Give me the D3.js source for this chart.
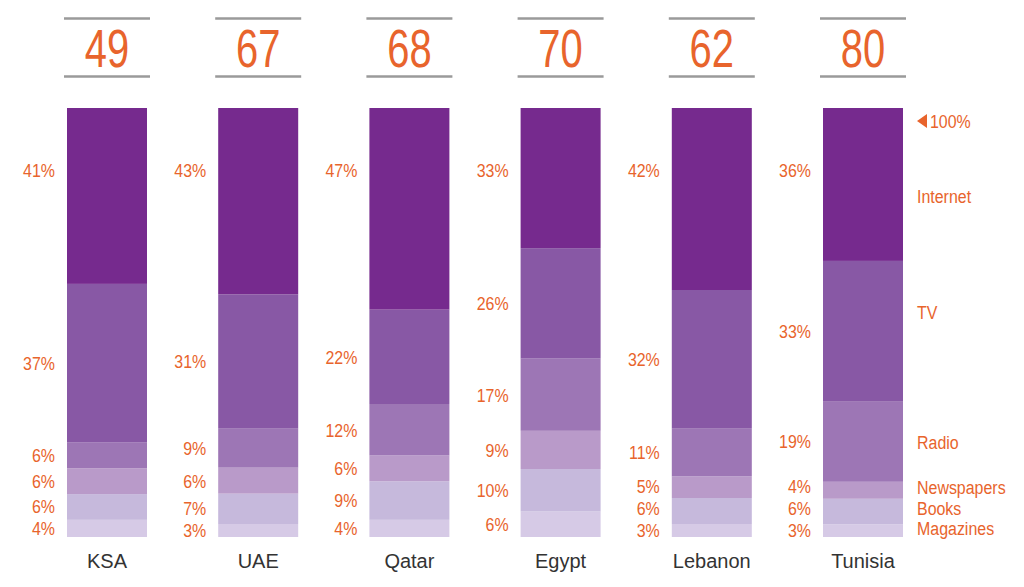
<!DOCTYPE html>
<html><head><meta charset="utf-8">
<script src="https://cdn.jsdelivr.net/npm/d3@7"></script>
<style>
html,body{margin:0;padding:0;background:#fff;}
svg{display:block;}
</style></head>
<body>
<svg id="chart" width="1024" height="587"></svg>
<script>
// ---- data ----
const countries = ["KSA", "UAE", "Qatar", "Egypt", "Lebanon", "Tunisia"];
const totals = [49, 67, 68, 70, 62, 80];
const media = ["Magazines", "Books", "Newspapers", "Radio", "TV", "Internet"]; // bottom to top
const magazines  = [4, 3, 4, 6, 3, 3];
const books      = [6, 7, 9, 10, 6, 6];
const newspapers = [6, 6, 6, 9, 5, 4];
const radio      = [6, 9, 12, 17, 11, 19];
const tv         = [37, 31, 22, 26, 32, 33];
const internet   = [41, 43, 47, 33, 42, 36];

const series = [magazines, books, newspapers, radio, tv, internet];
const colors = ["#d6cae6", "#c6b9dc", "#b99ac9", "#9d76b5", "#8858a5", "#762a8e"];
const orange = "#e8642c";

const svg = d3.select("#chart");
const font = "'Liberation Sans',Arial,sans-serif";

const xs = d3.scaleBand().domain(countries).range([67, 903])
  .paddingInner((151.2 - 80) / 151.2).paddingOuter(0);
const y = d3.scaleLinear().domain([0, 100]).range([537, 108]);

const stackData = countries.map((c, i) => {
  const o = { country: c };
  const sum = d3.sum(series, s => s[i]);
  media.forEach((m, k) => { o[m] = series[k][i] * 100 / sum; o["raw_" + m] = series[k][i]; });
  return o;
});
const stack = d3.stack().keys(media)(stackData);

// condensed text helper
function ctext(g, x, yy, str, size, sx, anchor, fill) {
  return g.append("text")
    .attr("transform", `translate(${x},${yy}) scale(${sx},1)`)
    .attr("text-anchor", anchor)
    .attr("dy", "0.36em")
    .attr("font-family", font)
    .attr("font-size", size)
    .attr("fill", fill)
    .text(str);
}

// segments
stack.forEach((layer, k) => {
  svg.append("g").selectAll("rect").data(layer).join("rect")
    .attr("x", d => xs(d.data.country))
    .attr("width", xs.bandwidth())
    .attr("y", d => y(d[1]))
    .attr("height", d => y(d[0]) - y(d[1]))
    .attr("fill", colors[k]);
});

// percentage labels (bottom-up, avoid overlaps)
const lblG = svg.append("g");
countries.forEach((c, i) => {
  let prev = Infinity;
  stack.forEach((layer, k) => {
    const d = layer[i];
    const key = media[k];
    let yy = key === "Internet" ? y(100) + 62 : (y(d[0]) + y(d[1])) / 2;
    if (key !== "Internet") { yy = Math.min(yy, prev - 22); prev = yy; }
    ctext(lblG, xs(c) - 12, yy, d.data["raw_" + key] + "%", 19, 0.84, "end", orange);
  });
});

// top totals with rules
const tg = svg.append("g");
countries.forEach((c, i) => {
  const x0 = xs(c) - 3, x1 = xs(c) + xs.bandwidth() + 3, cx = xs(c) + xs.bandwidth() / 2;
  tg.append("line").attr("x1", x0).attr("x2", x1).attr("y1", 18.5).attr("y2", 18.5)
    .attr("stroke", "#9a9a9a").attr("stroke-width", 2.5);
  tg.append("line").attr("x1", x0).attr("x2", x1).attr("y1", 76.5).attr("y2", 76.5)
    .attr("stroke", "#9a9a9a").attr("stroke-width", 2.5);
  tg.append("text")
    .attr("transform", `translate(${cx},67) scale(0.74,1)`)
    .attr("text-anchor", "middle")
    .attr("font-family", font).attr("font-size", 54).attr("fill", orange)
    .text(totals[i]);
});

// country labels
svg.append("g").selectAll("text").data(countries).join("text")
  .attr("x", c => xs(c) + xs.bandwidth() / 2)
  .attr("y", 568)
  .attr("text-anchor", "middle")
  .attr("font-family", font)
  .attr("font-size", 20)
  .attr("fill", "#333")
  .text(c => c);

// legend (right side), aligned with the last bar's segments
const last = countries.length - 1;
const lx = 917;
const nudge = { Internet: 12, TV: -19, Radio: 1, Newspapers: 0, Books: 0, Magazines: -2 };
const lg = svg.append("g");
lg.append("path")
  .attr("d", `M${lx},${y(100) + 13} L${lx + 10},${y(100) + 6} L${lx + 10},${y(100) + 20} Z`)
  .attr("fill", orange);
ctext(lg, lx + 13, y(100) + 13, "100%", 19, 0.84, "start", orange);
let prevL = Infinity;
stack.forEach((layer, k) => {
  const d = layer[last];
  let yy = (y(d[0]) + y(d[1])) / 2 + nudge[media[k]];
  yy = Math.min(yy, prevL - 20.5);
  prevL = yy;
  ctext(lg, lx, yy, media[k], 19, 0.84, "start", orange);
});
</script>
</body></html>
